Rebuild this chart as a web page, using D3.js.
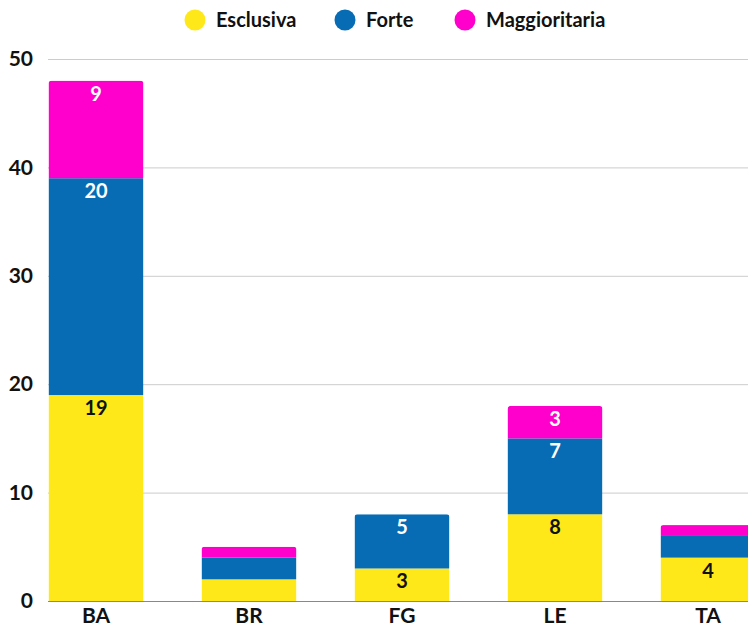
<!DOCTYPE html>
<html lang="it">
<head>
  <meta charset="UTF-8">
  <title>Esclusiva / Forte / Maggioritaria</title>
  <style>
    body { margin: 0; padding: 0; background: #fff; font-family: Lato, "Open Sans", sans-serif; }
    #chart svg { display: block; }
    .grid line { stroke: #cccccc; stroke-width: 1px; }
    .axis text { font-weight: bold; fill: #111; }
    .seg-label { font-weight: bold; font-size: 20px; text-anchor: middle; }
    .legend text { font-weight: bold; font-size: 20px; fill: #111; }
  </style>
</head>
<body>
<div id="chart"></div>
<script src="https://d3js.org/d3.v7.min.js"></script>
<script>
  // data
  const provinces = ["BA", "BR", "FG", "LE", "TA"];
  const seriesNames = ["Esclusiva", "Forte", "Maggioritaria"];
  const esclusiva = [19, 2, 3, 8, 4];
  const forte = [20, 2, 5, 7, 2];
  const maggioritaria = [9, 1, 0, 3, 1];
  const yTicks = [0, 10, 20, 30, 40, 50];
  const colors = ["#ffe81a", "#076cb4", "#ff00cc"];
  const labelColors = ["#111111", "#ffffff", "#ffffff"];

  const width = 748, height = 626;
  const rows = provinces.map((p, i) => ({
    prov: p, Esclusiva: esclusiva[i], Forte: forte[i], Maggioritaria: maggioritaria[i]
  }));

  const svg = d3.select("#chart").append("svg")
      .attr("width", width)
      .attr("height", height);

  const x = d3.scaleBand()
      .domain(provinces)
      .range([19.5, 784.5])
      .paddingInner(0.38)
      .paddingOuter(0.19);

  const y = d3.scaleLinear()
      .domain([0, 50])
      .range([601, 59]);

  // gridlines
  svg.append("g").attr("class", "grid")
    .selectAll("line")
    .data(yTicks.filter(t => t > 0))
    .enter().append("line")
      .attr("x1", 48).attr("x2", width)
      .attr("y1", d => y(d) + 0.5).attr("y2", d => y(d) + 0.5);

  // y axis labels
  const yAxis = svg.append("g").attr("class", "axis")
      .attr("transform", "translate(33,0)")
      .call(d3.axisLeft(y).tickValues(yTicks).tickSize(0).tickPadding(0));
  yAxis.select(".domain").remove();
  yAxis.selectAll("text").style("font-size", "21px").style("font-family", "Lato, sans-serif");

  const stack = d3.stack().keys(seriesNames);
  const stacked = stack(rows);

  // clip per bar for rounded top
  const defs = svg.append("defs");
  rows.forEach((r, i) => {
    const total = esclusiva[i] + forte[i] + maggioritaria[i];
    defs.append("clipPath").attr("id", "clip" + i)
      .append("rect")
        .attr("x", x(r.prov))
        .attr("y", y(total))
        .attr("width", x.bandwidth())
        .attr("height", y(0) - y(total) + 4)
        .attr("rx", 3);
  });

  const layers = svg.append("g").selectAll("g")
    .data(stacked)
    .enter().append("g")
      .attr("fill", (d, i) => colors[i]);

  layers.selectAll("rect")
    .data(d => d)
    .enter().append("rect")
      .attr("clip-path", (d, i) => "url(#clip" + i + ")")
      .attr("x", d => x(d.data.prov))
      .attr("y", d => y(d[1]))
      .attr("width", x.bandwidth())
      .attr("height", d => y(d[0]) - y(d[1]));

  // baseline
  svg.append("line")
    .attr("x1", 48).attr("x2", width)
    .attr("y1", y(0) + 0.5).attr("y2", y(0) + 0.5)
    .attr("stroke", "#888").attr("stroke-width", 1);

  // segment labels (only when the segment is tall enough)
  stacked.forEach((layer, k) => {
    svg.append("g").selectAll("text")
      .data(layer.filter(d => d[1] - d[0] >= 3))
      .enter().append("text")
        .attr("class", "seg-label")
        .attr("fill", labelColors[k])
        .attr("x", d => x(d.data.prov) + x.bandwidth() / 2)
        .attr("y", d => y(d[1]) + 20)
        .text(d => d[1] - d[0]);
  });

  // x axis labels
  const xAxis = svg.append("g").attr("class", "axis")
      .attr("transform", "translate(0,608)")
      .call(d3.axisBottom(x).tickSize(0).tickPadding(0));
  xAxis.select(".domain").remove();
  xAxis.selectAll("text").style("font-size", "21px").style("font-family", "Lato, sans-serif");

  // legend
  const legendX = [195, 345, 465];
  const legend = svg.append("g").attr("class", "legend")
    .selectAll("g")
    .data(seriesNames)
    .enter().append("g")
      .attr("transform", (d, i) => `translate(${legendX[i]},20)`);
  legend.append("circle").attr("r", 10.5).attr("fill", (d, i) => colors[i]);
  legend.append("text").attr("x", 21).attr("dy", "0.35em").text(d => d);
</script>
</body>
</html>
